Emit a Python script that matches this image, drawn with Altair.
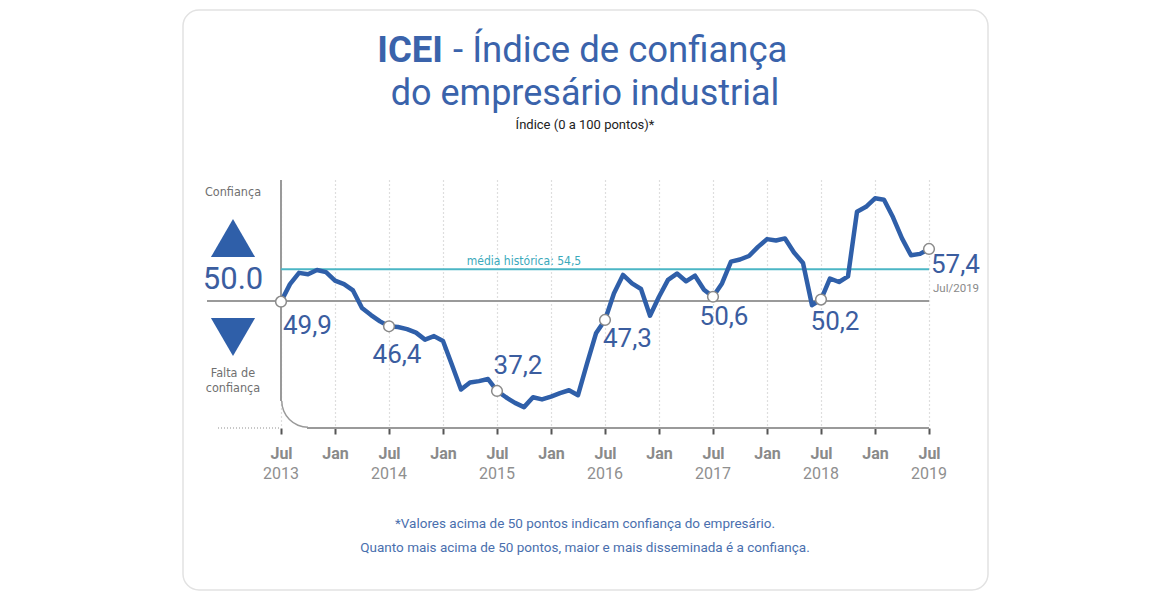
import math
import altair as alt
import pandas as pd

# ---------------- data ----------------
months = [
    "2013-07", "2013-08", "2013-09", "2013-10", "2013-11", "2013-12",
    "2014-01", "2014-02", "2014-03", "2014-04", "2014-05", "2014-06",
    "2014-07", "2014-08", "2014-09", "2014-10", "2014-11", "2014-12",
    "2015-01", "2015-02", "2015-03", "2015-04", "2015-05", "2015-06",
    "2015-07", "2015-08", "2015-09", "2015-10", "2015-11", "2015-12",
    "2016-01", "2016-02", "2016-03", "2016-04", "2016-05", "2016-06",
    "2016-07", "2016-08", "2016-09", "2016-10", "2016-11", "2016-12",
    "2017-01", "2017-02", "2017-03", "2017-04", "2017-05", "2017-06",
    "2017-07", "2017-08", "2017-09", "2017-10", "2017-11", "2017-12",
    "2018-01", "2018-02", "2018-03", "2018-04", "2018-05", "2018-06",
    "2018-07", "2018-08", "2018-09", "2018-10", "2018-11", "2018-12",
    "2019-01", "2019-02", "2019-03", "2019-04", "2019-05", "2019-06",
    "2019-07",
]
icei = [
    49.9, 52.4, 54.0, 53.8, 54.4, 54.1,
    52.9, 52.4, 51.5, 49.0, 48.0, 47.1,
    46.4, 46.3, 46.0, 45.5, 44.5, 45.0,
    44.3, 40.9, 37.4, 38.4, 38.6, 38.9,
    37.2, 36.3, 35.5, 34.9, 36.3, 36.0,
    36.4, 36.9, 37.3, 36.6, 41.1, 45.4,
    47.3, 51.1, 53.7, 52.5, 51.7, 47.9,
    50.6, 53.0, 53.9, 52.8, 53.6, 51.6,
    50.6, 52.5, 55.6, 55.9, 56.4, 57.7,
    58.8, 58.6, 58.9, 56.9, 55.4, 49.4,
    50.2, 53.2, 52.7, 53.5, 62.7, 63.4,
    64.6, 64.4, 61.9, 58.9, 56.5, 56.7,
    57.4,
]
highlight_months = ["2013-07", "2014-07", "2015-07", "2016-07", "2017-07", "2018-07", "2019-07"]
highlight_labels = ["49,9", "46,4", "37,2", "47,3", "50,6", "50,2", "57,4"]

tick_months = ["2013-07", "2014-01", "2014-07", "2015-01", "2015-07", "2016-01", "2016-07",
               "2017-01", "2017-07", "2018-01", "2018-07", "2019-01", "2019-07"]
year_months = ["2013-07", "2014-07", "2015-07", "2016-07", "2017-07", "2018-07", "2019-07"]
year_labels = ["2013", "2014", "2015", "2016", "2017", "2018", "2019"]

neutral_level = 50.0
historical_mean = 54.5
mean_label = "média histórica: 54,5"

title_bold = "ICEI"
title_rest = "- Índice de confiança"
title_line2 = "do empresário industrial"
subtitle = "Índice (0 a 100 pontos)*"
note_1 = "*Valores acima de 50 pontos indicam confiança do empresário."
note_2 = "Quanto mais acima de 50 pontos, maior e mais disseminada é a confiança."

# ---------------- tables ----------------
idx = {m: i for i, m in enumerate(months)}
df = pd.DataFrame({"m": [idx[m] for m in months], "v": icei})
hl = pd.DataFrame({"m": [idx[m] for m in highlight_months],
                   "v": [icei[idx[m]] for m in highlight_months],
                   "label": highlight_labels})
yrs = pd.DataFrame({"m": [idx[m] for m in year_months], "year": year_labels})
tick_vals = [idx[m] for m in tick_months]

W, H = 648, 248
BLUE_LINE = "#2f5fa9"
BLUE_TXT = "#3b5d9f"
TITLE_BLUE = "#3a63ab"
TEAL = "#4bb6c5"
GRAY = "#9a9a9a"
FONT = "Roboto"
NARROW = "Liberation Sans Narrow, DejaVu Sans Condensed, Roboto"

xs = alt.Scale(domain=[0, 72], nice=False, zero=False)
ys = alt.Scale(domain=[31.93, 67.21], nice=False, zero=False)

one = pd.DataFrame({"a": [0]})

x_axis = alt.Axis(values=tick_vals, labelExpr="datum.value % 12 == 0 ? 'Jul' : 'Jan'",
                  labelFont=FONT, labelFontSize=16, labelFontWeight="bold", labelColor="#8a8a8a",
                  labelPadding=11, labelFlush=False, labelOverlap=False,
                  tickSize=6, tickWidth=2, tickColor="#555555",
                  domain=False, grid=True, gridDash=[1, 3], gridColor="#bdbdbd", gridWidth=1.2,
                  title=None)

# card frame (outline only)
card = alt.Chart(one).mark_rect(fill="transparent", stroke="#e2e2e2", strokeWidth=1.5, cornerRadius=16).encode(
    x=alt.value(-98), x2=alt.value(707), y=alt.value(-170), y2=alt.value(410))

# gridlines + axis ticks (from a base layer)
base_axis = alt.Chart(df).mark_line(opacity=0).encode(
    x=alt.X("m:Q", scale=xs, axis=x_axis),
    y=alt.Y("v:Q", scale=ys, axis=None))

# custom axis frame
vline = alt.Chart(one).mark_rule(color=GRAY, strokeWidth=2).encode(
    x=alt.value(0), y=alt.value(0), y2=alt.value(221))
corner = alt.Chart(one).mark_arc(color=GRAY, radius=27, radius2=25.5,
                                 theta=math.pi, theta2=1.5 * math.pi).encode(
    x=alt.value(27), y=alt.value(221))
hline = alt.Chart(one).mark_rule(color=GRAY, strokeWidth=2).encode(
    x=alt.value(26), x2=alt.value(W), y=alt.value(H))
dotted_left = alt.Chart(one).mark_rule(color="#b5b5b5", strokeWidth=1.5, strokeDash=[1, 2]).encode(
    x=alt.value(-63), x2=alt.value(0), y=alt.value(H))

# reference lines
fifty = alt.Chart(pd.DataFrame({"v": [neutral_level]})).mark_rule(color=GRAY, strokeWidth=2).encode(
    y=alt.Y("v:Q", scale=ys), x=alt.value(-74), x2=alt.value(W))
mean_rule = alt.Chart(pd.DataFrame({"v": [historical_mean]})).mark_rule(color=TEAL, strokeWidth=2).encode(
    y=alt.Y("v:Q", scale=ys), x=alt.value(0), x2=alt.value(W))
mean_text = alt.Chart(pd.DataFrame({"v": [historical_mean], "t": [mean_label]})).mark_text(
    font=NARROW, fontSize=12, color="#3aa9bb", dy=-8, align="center", baseline="middle").encode(
    y=alt.Y("v:Q", scale=ys), x=alt.value(243), text="t:N")

line = alt.Chart(df).mark_line(color=BLUE_LINE, strokeWidth=4.5, strokeJoin="round", strokeCap="round").encode(
    x=alt.X("m:Q", scale=xs), y=alt.Y("v:Q", scale=ys))
dots = alt.Chart(hl).mark_point(shape="circle", filled=True, fill="white", stroke="#8a8a8a",
                                strokeWidth=1.5, size=115, opacity=1).encode(
    x=alt.X("m:Q", scale=xs), y=alt.Y("v:Q", scale=ys))

# value labels (offsets in pixels from each point)
offsets = [(2, 24, "left"), (8, 29, "center"), (21, -25, "center"), (-2, 19, "left"),
           (11, 20, "center"), (14, 22, "center"), (2, 16, "left")]
label_layers = []
for i, (dx, dy, al) in enumerate(offsets):
    label_layers.append(
        alt.Chart(hl.iloc[[i]]).mark_text(font=FONT, fontSize=26, color=BLUE_TXT, dx=dx, dy=dy,
                                          align=al, baseline="middle").encode(
            x=alt.X("m:Q", scale=xs), y=alt.Y("v:Q", scale=ys), text="label:N"))
last_date = alt.Chart(hl.iloc[[-1]].assign(t="Jul/2019")).mark_text(
    font=FONT, fontSize=11.5, color="#8a8a8a", dx=4, dy=40, align="left", baseline="middle").encode(
    x=alt.X("m:Q", scale=xs), y=alt.Y("v:Q", scale=ys), text="t:N")

year_text = alt.Chart(yrs).mark_text(font=FONT, fontSize=16, color="#8f8f8f", baseline="middle").encode(
    x=alt.X("m:Q", scale=xs), y=alt.value(294), text="year:N")

# left legend panel
def txt(t, x, y, **kw):
    return alt.Chart(pd.DataFrame({"t": [t]})).mark_text(**kw).encode(
        x=alt.value(x), y=alt.value(y), text="t:N")

conf = txt("Confiança", -48, 12, font=NARROW, fontSize=12.5, color="#707070", baseline="middle")
up = alt.Chart(one).mark_point(shape="triangle-up", filled=True, color="#2f5fa9", size=1950, opacity=1).encode(
    x=alt.value(-48), y=alt.value(58))
fifty_txt = txt("50.0", -48, 100, font=FONT, fontSize=31, color=BLUE_TXT, baseline="middle")
down = alt.Chart(one).mark_point(shape="triangle-down", filled=True, color="#2f5fa9", size=1950, opacity=1).encode(
    x=alt.value(-48), y=alt.value(157))
falta1 = txt("Falta de", -48, 193, font=NARROW, fontSize=12.5, color="#707070", baseline="middle")
falta2 = txt("confiança", -48, 208, font=NARROW, fontSize=12.5, color="#707070", baseline="middle")

# titles
t1a = txt(title_bold, 162, -118, font=FONT, fontSize=36.5, fontWeight="bold", color=TITLE_BLUE,
          align="right", baseline="alphabetic")
t1b = txt(title_rest, 172, -118, font=FONT, fontSize=36.5, color=TITLE_BLUE, align="left", baseline="alphabetic")
t2 = txt(title_line2, 304, -75, font=FONT, fontSize=36, color=TITLE_BLUE, align="center", baseline="alphabetic")
st = txt(subtitle, 304, -55, font=FONT, fontSize=13, color="#222222", align="center", baseline="middle")
n1 = txt(note_1, 304, 344, font=FONT, fontSize=13.5, color="#4a6fae", align="center", baseline="middle")
n2 = txt(note_2, 304, 368, font=FONT, fontSize=13.5, color="#4a6fae", align="center", baseline="middle")

chart = alt.layer(
    card, base_axis, vline, corner, hline, dotted_left, fifty, mean_rule, mean_text,
    line, dots, *label_layers, last_date, year_text,
    conf, up, fifty_txt, down, falta1, falta2, t1a, t1b, t2, st, n1, n2,
).properties(
    width=W, height=H, autosize="none",
    padding={"left": 281, "top": 180, "right": 242, "bottom": 172},
    background="white",
).configure_view(strokeWidth=0)

chart.save("out.html", embed_options={"renderer": "svg", "actions": False})
